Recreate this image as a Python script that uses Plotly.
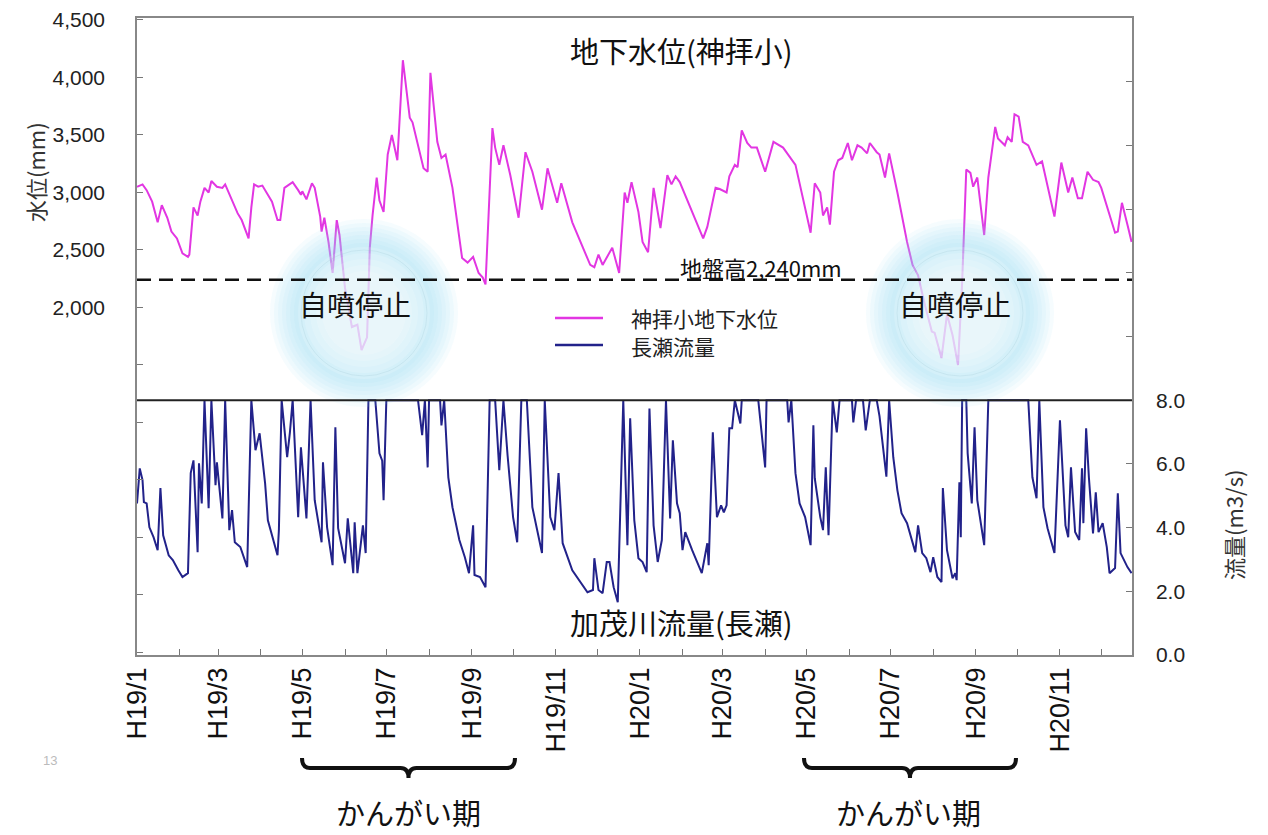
import plotly.graph_objects as go
import pandas as pd

# ---------------- data ----------------
START = "2007-01-01"

# 神拝小 groundwater level (mm); x = days since 2007-01-01
gw_days = [0, 4, 7, 11, 15, 18, 22, 25, 29, 33, 37, 38, 41, 44, 46, 49, 52, 54, 58, 62, 64, 68, 73, 76, 81, 83, 85,
           88, 91, 94, 98, 102, 104, 107, 113, 117, 119, 120, 123, 127, 129, 133, 134, 136, 139, 142, 145, 147, 151,
           156, 160, 163, 167, 169, 171, 174, 176, 179, 182, 185, 189, 193, 198, 200, 208, 211, 213, 218, 221, 224,
           229, 236, 240, 244, 248, 251, 253, 258, 260, 263, 266, 271, 277, 282, 287, 294, 298, 305, 308, 316, 323,
           329, 332, 335, 338, 345, 350, 354, 356, 359, 364, 367, 371, 375, 380, 385, 388, 391, 394, 411, 414, 420,
           423, 428, 430, 434, 436, 439, 443, 446, 450, 456, 462, 469, 478, 483, 489, 492, 496, 498, 501, 503, 506,
           509, 512, 516, 519, 523, 526, 530, 532, 537, 539, 543, 546, 552, 559, 563, 567, 572, 577, 579, 584, 588,
           592, 596, 599, 602, 605, 607, 610, 615, 618, 623, 625, 630, 632, 635, 637, 640, 643, 647, 653, 657, 666,
           671, 676, 679, 683, 686, 690, 694, 698, 700, 710, 712, 715, 719, 722]
gw_level = [3050, 3070, 3020, 2920, 2740, 2890, 2780, 2660, 2600, 2470, 2440, 2460, 2870, 2800, 2920, 3040, 3000,
            3100, 3050, 3040, 3070, 2960, 2820, 2760, 2600, 2870, 3070, 3050, 3060, 3000, 2920, 2760, 2760, 3040,
            3090, 3020, 2980, 3010, 2940, 3080, 3040, 2790, 2660, 2780, 2570, 2300, 2760, 2630, 2170, 1830, 1850,
            1630, 1740, 2520, 2800, 3130, 2930, 2830, 3330, 3500, 3280, 4150, 3650, 3610, 3210, 3180, 4040, 3440,
            3300, 3330, 3040, 2430, 2390, 2440, 2300, 2260, 2200, 3560, 3390, 3240, 3410, 3150, 2780, 3350, 3180,
            2850, 3210, 2910, 3080, 2740, 2540, 2370, 2350, 2460, 2370, 2520, 2300, 3000, 2910, 3090, 2830, 2570,
            2480, 3040, 2690, 3150, 3070, 3140, 3090, 2600, 2700, 3040, 3030, 3000, 3140, 3240, 3220, 3540, 3430,
            3390, 3390, 3180, 3440, 3390, 3240, 2980, 2650, 3080, 3000, 2800, 2870, 2720, 3180, 3280, 3300, 3430,
            3280, 3410, 3390, 3340, 3430, 3350, 3330, 3130, 3340, 3000, 2570, 2370, 2280, 2020, 1790, 1780, 1560,
            1940, 1760, 1500, 2220, 3200, 3170, 3050, 3130, 2630, 3130, 3570, 3470, 3410, 3480, 3440, 3680, 3660,
            3440, 3410, 3240, 3270, 2790, 3260, 3000, 3130, 2950, 2950, 3180, 3110, 3090, 3040, 2650, 2660, 2910,
            2720, 2570]

# 長瀬 discharge (m3/s); values above 8.0 are cut off in the source and read as 8.0
flow_days = [0, 2, 4, 5, 7, 9, 12, 15, 17, 19, 23, 26, 30, 33, 37, 39, 41, 44, 45, 47, 49, 52, 54, 57, 58, 62, 64,
             67, 69, 71, 75, 80, 83, 86, 89, 93, 95, 99, 102, 103, 105, 109, 111, 113, 117, 119, 123, 126, 129, 134,
             135, 138, 142, 144, 146, 151, 153, 157, 158, 160, 164, 166, 168, 173, 176, 178, 179, 181, 204, 207, 209,
             211, 212, 220, 221, 223, 226, 229, 234, 238, 241, 244, 245, 249, 253, 256, 260, 263, 266, 269, 273, 276,
             279, 283, 287, 294, 296, 300, 303, 306, 309, 316, 322, 327, 331, 332, 335, 338, 341, 343, 346, 349, 353,
             356, 358, 361, 364, 367, 370, 372, 375, 378, 381, 384, 387, 389, 392, 394, 396, 398, 403, 410, 414, 415,
             418, 421, 424, 426, 428, 430, 432, 434, 438, 439, 451, 456, 457, 472, 473, 475, 478, 481, 485, 489, 491,
             492, 496, 498, 500, 502, 505, 508, 510, 519, 520, 522, 527, 529, 532, 537, 539, 544, 546, 549, 552, 555,
             559, 563, 565, 567, 570, 573, 576, 578, 581, 584, 585, 588, 592, 594, 595, 597, 598, 599, 602, 603, 606,
             608, 610, 615, 617, 618, 647, 650, 653, 655, 658, 661, 666, 670, 674, 676, 678, 681, 684, 686, 687, 689,
             691, 694, 696, 698, 701, 704, 706, 710, 712, 714, 719, 722]
flow_value = [4.76, 5.86, 5.49, 4.80, 4.76, 4.01, 3.70, 3.29, 5.24, 3.76, 3.13, 2.98, 2.66, 2.45, 2.57, 5.71, 6.11,
              3.23, 6.02, 4.76, 8.0, 4.61, 8.0, 5.33, 6.05, 4.29, 8.0, 3.92, 4.55, 3.54, 3.39, 2.76, 8.0, 6.43, 6.96,
              5.39, 4.23, 3.61, 3.13, 3.92, 8.0, 6.21, 6.99, 8.0, 4.33, 6.52, 4.29, 8.0, 4.86, 3.54, 6.05, 4.01, 2.82,
              7.15, 3.98, 2.88, 4.29, 2.57, 4.17, 2.57, 4.07, 3.20, 8.0, 8.0, 6.33, 6.10, 4.86, 8.0, 8.0, 6.90, 8.0,
              5.89, 8.0, 8.0, 7.21, 8.0, 5.58, 4.64, 3.61, 3.07, 2.57, 4.07, 2.51, 2.45, 2.13, 8.0, 8.0, 5.80, 8.0,
              6.27, 4.33, 3.54, 8.0, 8.0, 4.64, 3.20, 8.0, 4.33, 3.92, 5.71, 3.51, 2.66, 2.26, 1.97, 2.04, 3.04, 2.04,
              1.94, 2.92, 2.92, 2.13, 1.66, 8.0, 3.45, 7.43, 4.23, 3.04, 2.92, 2.60, 7.74, 4.07, 2.92, 3.61, 8.0, 4.29,
              6.74, 4.76, 4.45, 3.29, 3.86, 3.29, 2.57, 3.51, 2.82, 6.99, 4.33, 4.70, 4.48, 4.70, 7.12, 7.12, 8.0, 7.27,
              8.0, 8.0, 5.89, 8.0, 8.0, 7.30, 8.0, 5.71, 4.76, 4.33, 3.45, 7.21, 5.55, 4.33, 3.92, 5.89, 3.76, 8.0,
              6.99, 8.0, 8.0, 7.30, 8.0, 8.0, 7.05, 8.0, 8.0, 7.50, 5.60, 8.0, 6.21, 5.17, 4.45, 4.14, 3.51, 3.23, 4.07,
              3.20, 3.04, 2.60, 3.07, 2.45, 2.29, 5.24, 3.29, 2.41, 2.57, 2.35, 5.42, 3.70, 8.0, 8.0, 6.33, 4.76, 7.15,
              4.86, 3.45, 6.49, 8.0, 8.0, 5.58, 4.92, 8.0, 4.64, 3.98, 3.20, 7.37, 4.07, 3.70, 5.89, 3.86, 3.61, 5.86,
              4.14, 7.12, 5.58, 3.82, 5.11, 3.86, 4.14, 3.39, 2.57, 2.73, 5.08, 3.20, 2.76, 2.57]

x_tick_labels = ["H19/1", "", "H19/3", "", "H19/5", "", "H19/7", "", "H19/9", "", "H19/11", "",
                 "H20/1", "", "H20/3", "", "H20/5", "", "H20/7", "", "H20/9", "", "H20/11", ""]
left_tick_values = [-1000, -500, 0, 500, 1000, 1500, 2000, 2500, 3000, 3500, 4000, 4500]
left_tick_labels = ["", "", "", "", "", "", "2,000", "2,500", "3,000", "3,500", "4,000", "4,500"]
right_tick_values = [0, 2, 4, 6, 8, 10, 12, 14, 16, 18, 20]
right_tick_labels = ["0.0", "2.0", "4.0", "6.0", "8.0", "", "", "", "", "", ""]
ground_level = 2240
series_names = ["神拝小地下水位", "長瀬流量"]
series_colors = ["#E236E2", "#22228A"]

# ---------------- geometry helpers (window pixels) ----------------
OFF = 8                      # page body margin of the browser
WIN_W, WIN_H = 1268, 835
L, R, T, B = 137, 1132, 18, 655


def px(x):
    return (x - L) / (R - L)


def py(y):
    return (B - y) / (B - T)


start = pd.Timestamp(START)
gw_dates = [start + pd.Timedelta(days=d) for d in gw_days]
flow_dates = [start + pd.Timedelta(days=d) for d in flow_days]
month_ticks = list(pd.date_range("2007-01-01", "2008-12-01", freq="MS"))

FONT = "Liberation Sans, Arial, Noto Sans CJK JP, sans-serif"
JFONT = "Noto Sans CJK JP, sans-serif"

fig = go.Figure()
fig.add_trace(go.Scatter(x=gw_dates, y=gw_level, mode="lines", name=series_names[0],
                         line=dict(color=series_colors[0], width=2), yaxis="y", showlegend=False))
fig.add_trace(go.Scatter(x=flow_dates, y=flow_value, mode="lines", name=series_names[1],
                         line=dict(color=series_colors[1], width=2), yaxis="y2", showlegend=False))

shapes = []
# glows (自噴停止)
for cx in (364, 960):
    cy = 313
    for r in (94, 90, 86, 82, 78, 74, 70):
        shapes.append(dict(type="circle", xref="paper", yref="paper", xsizemode="pixel", ysizemode="pixel",
                           xanchor=px(cx), yanchor=py(cy), x0=-r, x1=r, y0=-r, y1=r,
                           fillcolor="rgba(150,222,238,0.085)", line=dict(width=0), layer="above"))
    for r in (66, 60, 54, 48, 42):
        shapes.append(dict(type="circle", xref="paper", yref="paper", xsizemode="pixel", ysizemode="pixel",
                           xanchor=px(cx), yanchor=py(cy), x0=-r, x1=r, y0=-r, y1=r,
                           fillcolor="rgba(255,255,255,0.16)", line=dict(width=0), layer="above"))
    shapes.append(dict(type="circle", xref="paper", yref="paper", xsizemode="pixel", ysizemode="pixel",
                       xanchor=px(cx), yanchor=py(cy), x0=-63, x1=63, y0=-63, y1=63,
                       fillcolor="rgba(0,0,0,0)", line=dict(width=1, color="rgba(150,190,205,0.22)"),
                       layer="above"))

# ground level dashed line
shapes.append(dict(type="line", xref="paper", x0=0, x1=1, yref="y", y0=ground_level, y1=ground_level,
                   line=dict(color="#111", width=2.5, dash="14px,8px"), layer="above"))
# divider between the two panels
shapes.append(dict(type="line", xref="paper", x0=0, x1=1, yref="y2", y0=8, y1=8,
                   line=dict(color="#222", width=2), layer="above"))

# legend (drawn by hand to match the source layout)
for i, yy in enumerate((318, 345)):
    shapes.append(dict(type="line", xref="paper", yref="paper", x0=px(555), x1=px(603), y0=py(yy), y1=py(yy),
                       line=dict(color=series_colors[i], width=2.5), layer="above"))


def bracket(x0, x1, y):
    xm = (x0 + x1) / 2
    pts = [("M", x0, y - 10), ("Q", x0, y), ("", x0 + 8, y), ("L", xm - 8, y), ("Q", xm, y), ("", xm, y + 10),
           ("Q", xm, y), ("", xm + 8, y), ("L", x1 - 8, y), ("Q", x1, y), ("", x1, y - 10)]
    s = ""
    for cmd, xx, yy in pts:
        s += f"{cmd}{px(xx):.5f},{py(yy):.5f} "
    return s.strip()


for bx0, bx1 in ((302, 515), (804, 1016)):
    shapes.append(dict(type="path", xref="paper", yref="paper", path=bracket(bx0, bx1, 768),
                       line=dict(color="#111", width=4)))

ann = []


def text(x, y, s, size, color="#111", angle=0, family=JFONT, xanchor="center"):
    ann.append(dict(x=px(x), y=py(y), xref="paper", yref="paper", text=s, showarrow=False, textangle=angle,
                    font=dict(size=size, color=color, family=family), xanchor=xanchor, yanchor="middle"))


text(681, 50, "地下水位(神拝小)", 29)
text(681, 622, "加茂川流量(長瀬)", 29)
text(761, 267, "地盤高2,240mm", 22)
text(355, 304, "自噴停止", 28)
text(955, 304, "自噴停止", 28)
text(629, 318, series_names[0], 21, color="#222", xanchor="left")
text(629, 346, series_names[1], 21, color="#222", xanchor="left")
text(35, 172, "水位(mm)", 22, color="#333", angle=-90)
text(1233, 525, "流量(m3/s)", 22, color="#333", angle=-90)
text(408, 812, "かんがい期", 29)
text(908, 812, "かんがい期", 29)
text(50, 760, "13", 13, color="#bbbbbb", family=FONT)

fig.update_layout(
    width=WIN_W - OFF, height=WIN_H - OFF, autosize=False,
    margin=dict(l=L - OFF, r=WIN_W - R, t=T - OFF, b=WIN_H - B, pad=0),
    paper_bgcolor="white", plot_bgcolor="white",
    font=dict(family=FONT, color="#222"),
    showlegend=False,
    xaxis=dict(type="date", range=[start, start + pd.Timedelta(days=722.3)], tickvals=month_ticks,
               ticktext=x_tick_labels, tickangle=-90, ticks="inside", ticklen=6, tickcolor="#777",
               showline=True, linecolor="#888", linewidth=1.5, mirror=True, showgrid=False, zeroline=False,
               tickfont=dict(size=27, color="#111"), ticklabelstandoff=0, automargin=False),
    yaxis=dict(range=[-1022, 4517], tickvals=left_tick_values, ticktext=left_tick_labels, ticks="inside",
               ticklen=6, tickcolor="#777", showline=True, linecolor="#888", linewidth=1.5, showgrid=False,
               zeroline=False, tickfont=dict(size=21, color="#222"), ticklabelstandoff=26, automargin=False),
    yaxis2=dict(range=[0, 20], overlaying="y", side="right", tickvals=right_tick_values,
                ticktext=right_tick_labels, ticks="inside", ticklen=6, tickcolor="#777", showline=True,
                linecolor="#888", linewidth=1.5, showgrid=False, zeroline=False,
                tickfont=dict(size=21, color="#222"), ticklabelstandoff=18, automargin=False),
    shapes=shapes, annotations=ann,
)

fig.write_html("out.html")
